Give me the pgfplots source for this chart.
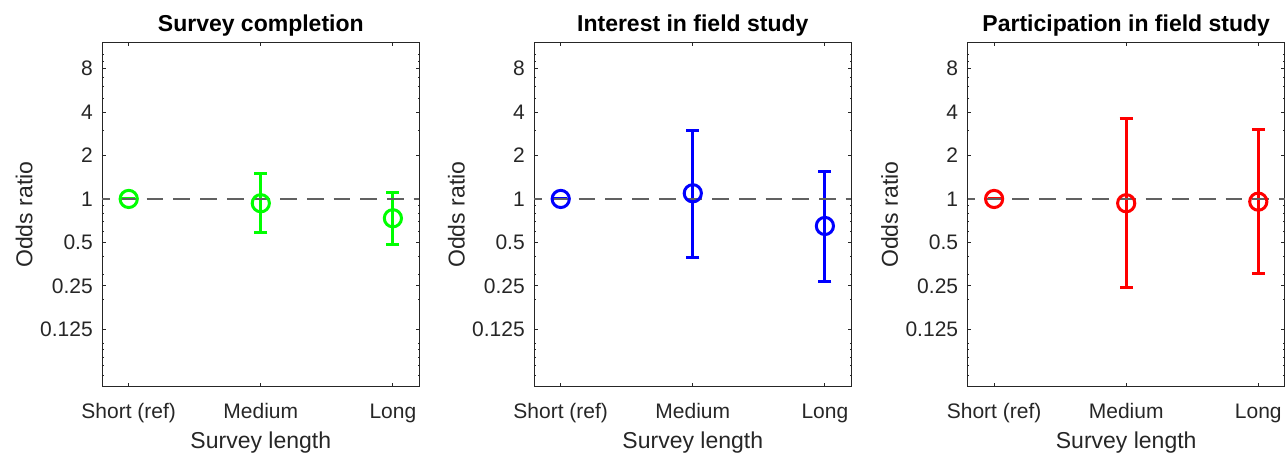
\documentclass[border=0pt]{standalone}
\usepackage{fontspec}
\setmainfont{Liberation Sans}
\usepackage{pgfplots}
\pgfplotsset{compat=1.18}
\usepackage{pgfplotstable}
\definecolor{axgray}{rgb}{0.15,0.15,0.15}
\definecolor{refgray}{rgb}{0.38,0.38,0.38}
\definecolor{mgreen}{rgb}{0,1,0}
\definecolor{mblue}{rgb}{0,0,1}
\definecolor{mred}{rgb}{1,0,0}

% x  y  ep(upper-y)  em(y-lower)
\pgfplotstableread{
x y ep em
1 1 0 0
2 0.934 0.563 0.353
3 0.735 0.378 0.255
}\tabA
\pgfplotstableread{
x y ep em
1 1 0 0
2 1.095 1.895 0.699
3 0.650 0.905 0.380
}\tabB
\pgfplotstableread{
x y ep em
1 1 0 0
2 0.934 2.666 0.689
3 0.958 2.092 0.656
}\tabC

\pgfplotsset{
  every axis/.append style={
    scale only axis, width=317bp, height=344bp,
    xmin=0.8, xmax=3.2, ymin=0.05, ymax=12.1,
    xtick={1,2,3}, xticklabels={Short (ref),Medium,Long},
    ytick={0.125,0.25,0.5,1,2,4,8},
    yticklabels={0.125,0.25,0.5,1,2,4,8},
    minor ytick={0.06,0.07,0.08,0.09,0.1,0.2,0.3,0.4,0.6,0.7,0.8,0.9,3,5,6,7,9,10},
    tick align=inside,
    major tick length=3.3bp, minor tick length=1.7bp,
    axis line style={draw=axgray, line width=0.8bp},
    tick style={draw=axgray, line width=0.8bp},
    xlabel={Survey length}, ylabel={Odds ratio},
    clip=false,
  },
  every tick label/.append style={font=\fontsize{21bp}{25bp}\selectfont, text=axgray},
  every axis label/.append style={font=\fontsize{23bp}{27bp}\selectfont, text=axgray},
  every axis title/.append style={font=\bfseries\fontsize{23bp}{27bp}\selectfont, text=black,
      at={(0.5,1.032)}, anchor=base, yshift=-6pt},
  every x tick label/.append style={anchor=base, yshift=-31.6bp},
  every y tick label/.append style={anchor=east, inner sep=0pt, xshift=-9.4bp},
  every axis x label/.append style={at={(0.5,-0.1782)}, anchor=base},
  every axis y label/.append style={at={(-0.2202,0.5)}, anchor=base},
  orstyle/.style={#1, only marks, line width=3bp, mark=o, mark size=8.6bp,
    mark options={solid, line width=3bp},
    error bars/y dir=both, error bars/y explicit,
    error bars/error mark options={rotate=90, mark size=6.5bp, line width=3bp, #1},
    error bars/error bar style={line width=3bp, #1}},
}

\begin{document}
\begin{tikzpicture}
\useasboundingbox (0,0) rectangle (1285bp,453bp);

\begin{semilogyaxis}[anchor=south west, at={(102.3bp,66.3bp)}, title={Survey completion}]
  \addplot[orstyle=mgreen]
    table[x=x, y=y, y error plus=ep, y error minus=em] {\tabA};
  \addplot[refgray, line width=1.6bp, dash pattern=on 16.7bp off 10bp, dash phase=9bp, mark=none]
    coordinates {(0.8,1) (3.2,1)};
\end{semilogyaxis}

\begin{semilogyaxis}[anchor=south west, at={(534.3bp,66.3bp)}, title={Interest in field study}]
  \addplot[orstyle=mblue]
    table[x=x, y=y, y error plus=ep, y error minus=em] {\tabB};
  \addplot[refgray, line width=1.6bp, dash pattern=on 16.7bp off 10bp, dash phase=9bp, mark=none]
    coordinates {(0.8,1) (3.2,1)};
\end{semilogyaxis}

\begin{semilogyaxis}[anchor=south west, at={(967.7bp,66.3bp)}, title={Participation in field study}]
  \addplot[orstyle=mred]
    table[x=x, y=y, y error plus=ep, y error minus=em] {\tabC};
  \addplot[refgray, line width=1.6bp, dash pattern=on 16.7bp off 10bp, dash phase=9bp, mark=none]
    coordinates {(0.8,1) (3.2,1)};
\end{semilogyaxis}
\end{tikzpicture}
\end{document}
